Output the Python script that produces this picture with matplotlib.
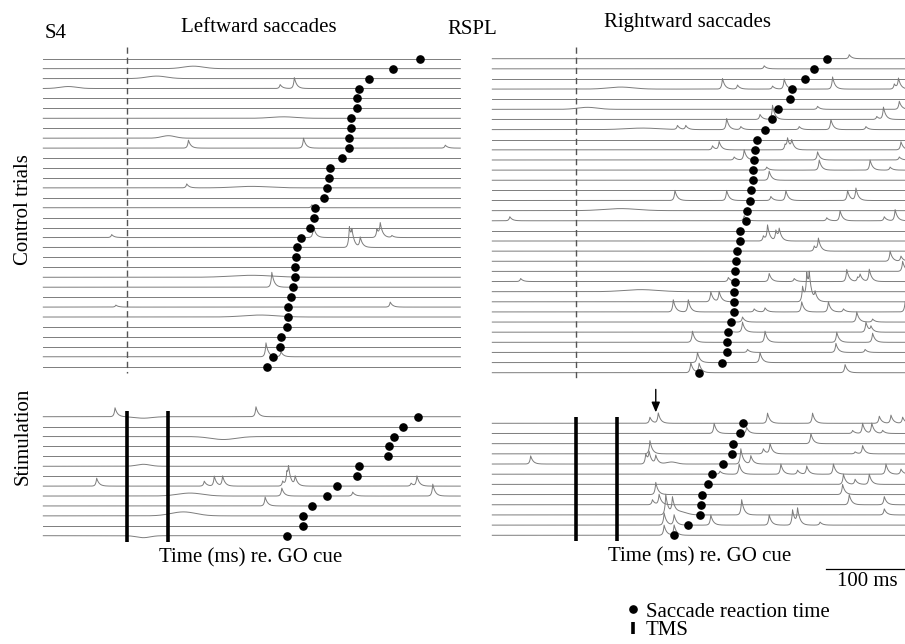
import numpy as np
import matplotlib.pyplot as plt
from matplotlib.lines import Line2D

plt.rcParams['font.family'] = ['Liberation Serif', 'DejaVu Serif']

W, H = 905, 644

# saccade reaction times (ms re. GO cue), one per trial, top trial first
left_ctrl_rt = [352, 319, 290, 278, 276, 276, 269, 269, 266, 266, 258, 244, 242, 240, 237, 226,
                224, 220, 209, 204, 203, 202, 202, 199, 197, 193, 193, 192, 185, 184, 176, 168]
right_ctrl_rt = [301, 286, 275, 259, 257, 243, 235, 227, 217, 215, 214, 213, 212, 210, 209, 205,
                 204, 197, 197, 193, 192, 191, 191, 190, 190, 190, 186, 183, 182, 182, 176, 148]
left_stim_rt = [349, 331, 321, 315, 313, 278, 276, 252, 240, 222, 211, 211, 192]
right_stim_rt = [200, 197, 189, 187, 177, 164, 159, 152, 150, 149, 135, 118]

tms_times = [0, 50]
arrow_time = 96

# EMG spikes: (trial, time ms, height in trace spacings)
left_ctrl_spikes = [
    (3, 184, 0.4), (3, 201, 1.1), (9, 74, 0.8), (9, 212, 1.0), (9, 382, 0.3), (13, 72, 0.4),
    (15, 222, 0.3), (18, -18, 0.3), (18, 224, 1.1), (18, 300, 0.8), (18, 304, 1.3), (18, 318, 0.2),
    (19, 267, 2.0), (19, 270, 1.2), (19, 280, 1.0), (23, 174, 1.5), (25, 316, 0.5), (25, -13, 0.2),
    (30, 167, 1.4), (30, 185, 0.5),
]
right_ctrl_spikes = [
    (0, 328, 0.4), (1, 226, 0.3), (3, 176, 1.05), (3, 194, 0.4), (3, 236, 0.3), (3, 250, 1.0),
    (3, 308, 1.2), (3, 382, 0.5), (3, 387, 1.0), (5, 290, 0.3), (5, 388, 0.8), (6, 221, 0.5),
    (6, 236, 1.4), (6, 361, 0.3), (6, 369, 1.2), (7, 122, 0.4), (7, 132, 0.4), (7, 181, 1.1),
    (7, 198, 0.3), (7, 268, 0.3), (7, 306, 1.0), (7, 348, 0.3), (9, 164, 0.4), (9, 172, 0.8),
    (9, 251, 0.5), (9, 254, 1.0), (9, 259, 0.8), (9, 390, 0.8), (10, 190, 0.3), (10, 202, 1.0),
    (10, 290, 0.8), (10, 388, 0.3), (11, 229, 0.3), (11, 292, 1.0), (11, 353, 1.0), (11, 377, 0.3),
    (12, 232, 0.9), (14, 119, 1.0), (14, 181, 1.0), (14, 234, 0.4), (14, 252, 1.0), (14, 326, 1.0),
    (14, 336, 1.2), (16, -79, 0.4), (16, 202, 0.5), (16, 301, 0.3), (16, 317, 1.0), (16, 370, 0.4),
    (16, 383, 1.1), (18, 225, 0.5), (18, 230, 1.5), (18, 240, 1.0), (18, 244, 1.0), (19, 286, 0.5),
    (19, 291, 1.2), (20, 377, 1.0), (20, 390, 0.5), (21, 392, 1.0), (22, -66, 0.3), (22, 183, 0.4),
    (22, 232, 0.8), (22, 262, 0.3), (22, 325, 1.2), (22, 338, 0.4), (22, 341, 0.6), (22, 352, 1.2),
    (24, 162, 1.0), (24, 172, 1.0), (24, 272, 1.5), (24, 277, 2.5), (24, 280, 2.0), (24, 287, 0.8),
    (25, 117, 1.2), (25, 135, 1.2), (25, 214, 0.3), (25, 227, 0.4), (25, 271, 1.0), (25, 303, 1.0),
    (25, 321, 0.3), (25, 395, 1.0), (26, 200, 0.5), (26, 337, 1.0), (26, 356, 0.3), (27, 182, 0.3),
    (27, 200, 1.0), (27, 348, 1.0), (27, 354, 0.5), (28, 140, 1.1), (28, 227, 1.1), (28, 313, 1.0),
    (28, 356, 0.9), (29, 206, 0.3), (29, 312, 0.9), (29, 347, 0.3), (30, 146, 1.0), (30, 221, 1.0),
    (31, 138, 1.0), (31, 148, 0.9), (31, 323, 0.8),
]
left_stim_spikes = [
    (0, -14, 0.9), (0, 155, 1.0), (7, -36, 0.8), (7, 93, 0.5), (7, 105, 1.0), (7, 115, 1.0),
    (7, 187, 0.5), (7, 192, 1.2), (7, 194, 1.4), (7, 202, 0.9), (7, 341, 0.3), (7, 348, 1.0),
    (8, 186, 0.8), (8, 271, 0.4), (8, 367, 1.2), (9, 166, 0.9),
]
right_stim_spikes = [
    (0, 89, 0.6), (0, 99, 1.0), (0, 230, 1.0), (0, 284, 1.0), (0, 364, 0.7), (0, 378, 0.8),
    (0, 392, 0.6), (1, 166, 1.0), (1, 205, 0.6), (1, 332, 0.3), (1, 344, 1.0), (1, 355, 1.0),
    (1, 368, 0.3), (2, 282, 1.0), (3, 89, 1.3), (3, 225, 0.5), (3, 233, 1.0), (3, 335, 0.2),
    (3, 344, 0.8), (4, -54, 0.8), (4, 84, 1.0), (4, 88, 1.0), (4, 96, 0.8), (4, 198, 1.5),
    (4, 210, 0.8), (5, 173, 0.3), (5, 196, 1.0), (5, 246, 1.0), (5, 266, 0.4), (5, 277, 0.8),
    (5, 309, 1.0), (5, 372, 1.0), (5, 390, 0.5), (6, 321, 1.0), (6, 335, 0.5), (6, 352, 1.0),
    (7, 96, 1.2), (7, 320, 1.0), (8, 92, 0.5), (8, 100, 1.0), (8, 328, 1.0), (8, 370, 0.8),
    (9, 108, 2.0), (9, 116, 1.5), (9, 199, 1.5), (9, 370, 0.6), (10, 106, 1.2), (10, 118, 1.0),
    (10, 162, 1.0), (10, 232, 1.0), (10, 260, 1.5), (10, 266, 1.5), (10, 293, 0.3),
    (11, 106, 1.0), (11, 118, 1.0),
]
# slow, low bumps: (trial, time ms, height, width ms)
left_ctrl_bumps = [(1, 80, 0.25, 12), (2, 36, 0.25, 12), (3, -70, 0.2, 10), (6, 188, 0.15, 15),
                   (8, 50, 0.25, 8), (13, 150, 0.15, 20), (26, 160, 0.2, 20), (22, 150, 0.2, 25)]
right_ctrl_bumps = [(3, 54, 0.2, 15), (5, 14, 0.2, 12), (15, 54, 0.2, 20), (23, 78, 0.2, 20),
                    (7, 80, 0.15, 20)]
left_stim_bumps = [(2, 116, -0.3, 15), (8, 76, 0.3, 15), (10, 68, 0.4, 15), (5, 20, 0.2, 8),
                   (12, 20, -0.2, 8), (0, 20, -0.15, 10)]
right_stim_bumps = [(4, 115, 0.2, 6), (9, 125, 0.3, 8)]

TRACE_T = np.arange(-100, 400.5, 0.5)


def trace(i, spikes, bumps):
    y = np.zeros_like(TRACE_T)
    for k, t0, h in spikes:
        if k == i:
            d = TRACE_T - t0
            y += h * np.where(d < 0, np.exp(d / 1.2), np.exp(-d / 3.0))
    for k, t0, h, w in bumps:
        if k == i:
            y += h * np.exp(-0.5 * ((TRACE_T - t0) / w) ** 2)
    return y


def make_ax(fig, xl, xr, yfirst, ylast, n, pad=1.5):
    sp = (ylast - yfirst) / (n - 1)
    top = yfirst - pad * sp
    bot = ylast + pad * sp
    ax = fig.add_axes([xl / W, 1 - bot / H, (xr - xl) / W, (bot - top) / H])
    ax.set_xlim(-100, 400)
    ax.set_ylim(n - 1 + pad, -pad)
    ax.axis('off')
    return ax


def draw_panel(ax, rts, spikes, bumps, stim):
    n = len(rts)
    for i in range(n):
        ax.plot(TRACE_T, i - trace(i, spikes, bumps), color='#7c7c7c', lw=0.7, clip_on=False)
    ax.plot(rts, np.arange(n), 'o', color='k', ms=5.2, zorder=5, clip_on=False)
    if stim:
        ax.vlines(tms_times, -0.6, n - 0.4, color='k', lw=2.6, zorder=4)
    else:
        ax.vlines(0, -1.2, n - 0.4, color='#555555', lw=1.0, linestyles=(0, (4.5, 2.8)), zorder=4)


fig = plt.figure(figsize=(W / 100, H / 100), dpi=100)

ax_lc = make_ax(fig, 43.3, 460.3, 58.7, 366.7, len(left_ctrl_rt))
ax_rc = make_ax(fig, 492.3, 909.3, 58.7, 372.7, len(right_ctrl_rt))
ax_ls = make_ax(fig, 43.3, 460.3, 416.7, 535.7, len(left_stim_rt))
ax_rs = make_ax(fig, 492.3, 909.3, 423.3, 535.3, len(right_stim_rt))

draw_panel(ax_lc, left_ctrl_rt, left_ctrl_spikes, left_ctrl_bumps, False)
draw_panel(ax_rc, right_ctrl_rt, right_ctrl_spikes, right_ctrl_bumps, False)
draw_panel(ax_ls, left_stim_rt, left_stim_spikes, left_stim_bumps, True)
draw_panel(ax_rs, right_stim_rt, right_stim_spikes, right_stim_bumps, True)

# arrow over first stimulation trial (rightward)
ax_rs.annotate('', xy=(arrow_time, -0.8), xytext=(arrow_time, -3.6), annotation_clip=False,
               arrowprops=dict(arrowstyle='-|>,head_width=0.25,head_length=0.6', color='k', lw=1.0))

# 100 ms scale bar
ax_rs.plot([300, 400], [14.3, 14.3], color='k', lw=0.9, clip_on=False)
ax_rs.text(350, 15.5, '100 ms', ha='center', va='center', fontsize=15)

fs = 15
def ftext(x, y, s, **kw):
    fig.text(x / W, 1 - y / H, s, fontsize=fs, va='center', **kw)

ftext(45, 34, 'S4', ha='left')
ftext(259, 27, 'Leftward saccades', ha='center')
ftext(472, 30, 'RSPL', ha='center')
ftext(687, 22, 'Rightward saccades', ha='center')
ftext(23, 210, 'Control trials', ha='center', rotation=90)
ftext(23, 436, 'Stimulation', ha='center', rotation=90)
ftext(251, 558, 'Time (ms) re. GO cue', ha='center')
ftext(700, 557, 'Time (ms) re. GO cue', ha='center')

handles = [Line2D([], [], marker='o', ls='none', color='k', ms=5.2),
           Line2D([], [], marker='|', ls='none', color='k', ms=8, mew=2.6)]
fig.legend(handles, ['Saccade reaction time', 'TMS'], loc='upper left',
           bbox_to_anchor=(627 / W, 1 - 602 / H), frameon=False, fontsize=fs,
           handlelength=0.6, handletextpad=0.3, labelspacing=-0.06, borderpad=0, borderaxespad=0)

fig.savefig('out.png', dpi=100)
